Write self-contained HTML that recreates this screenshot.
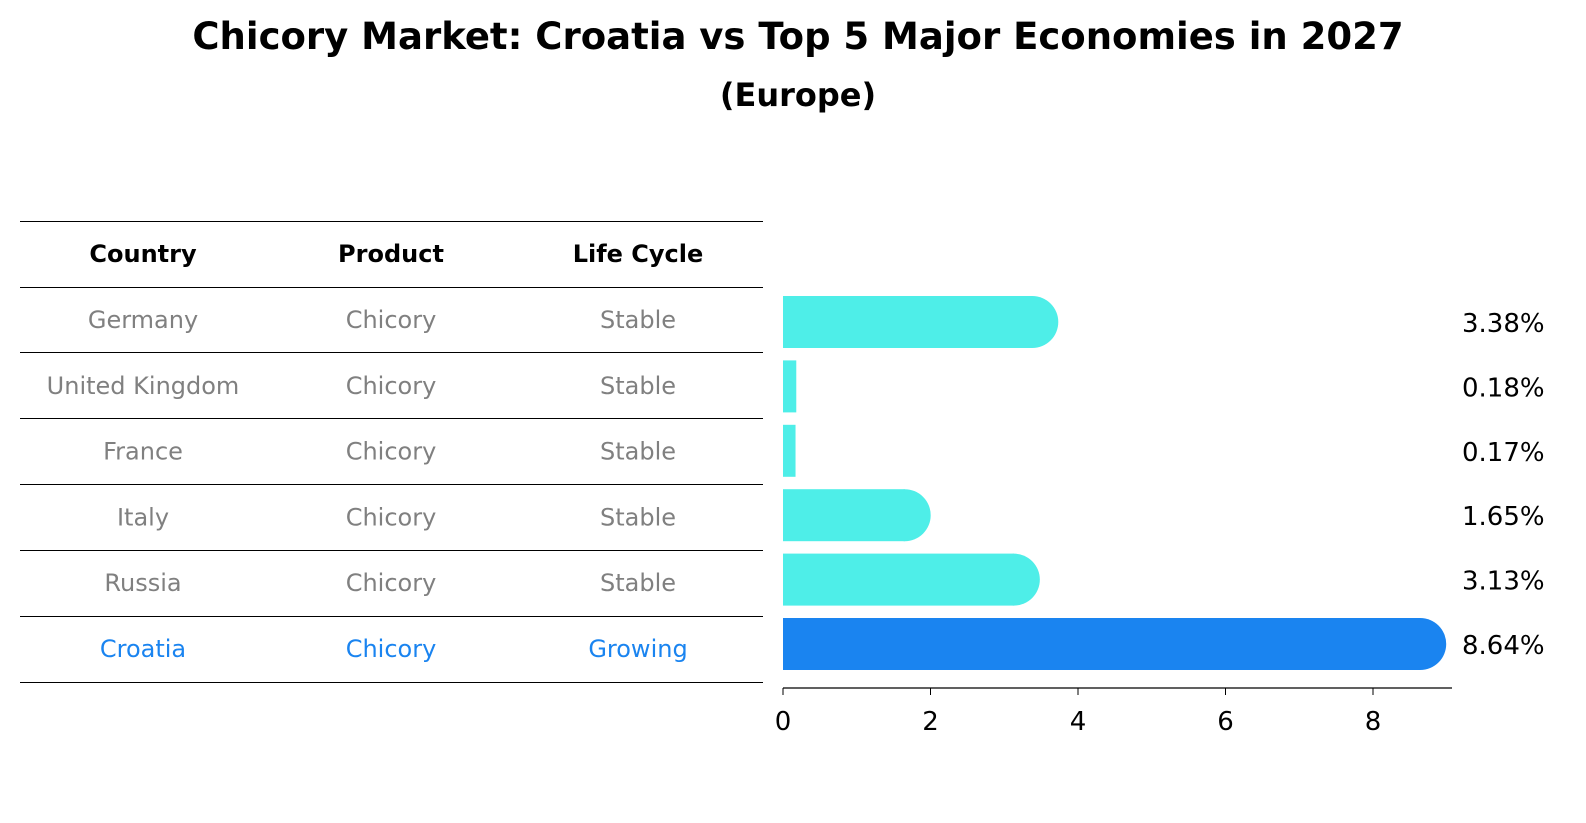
<!DOCTYPE html>
<html><head><meta charset="utf-8"><style>
html,body{margin:0;padding:0;background:#fff;overflow:hidden;width:1586px;height:823px;}
svg{display:block;font-family:"DejaVu Sans","Liberation Sans",sans-serif;}
</style></head><body>
<svg id="c" width="1586" height="823" viewBox="0 0 1586 823">
<text x="798" y="49" text-anchor="middle" font-size="37" font-weight="bold">Chicory Market: Croatia vs Top 5 Major Economies in 2027</text>
<text x="798" y="106" text-anchor="middle" font-size="32" font-weight="bold">(Europe)</text>
<g id="table"></g>
<g id="bars"></g>
</svg>
<script>
const countries=["Germany","United Kingdom","France","Italy","Russia","Croatia"];
const products=["Chicory","Chicory","Chicory","Chicory","Chicory","Chicory"];
const lifeCycles=["Stable","Stable","Stable","Stable","Stable","Growing"];
const shares=[3.38,0.18,0.17,1.65,3.13,8.64];
const xTicks=[0,2,4,6,8];
const NS="http://www.w3.org/2000/svg";
function mk(t,a,p){const e=document.createElementNS(NS,t);for(const k in a)e.setAttribute(k,a[k]);p.appendChild(e);return e;}
const tbl=document.getElementById('table'), bars=document.getElementById('bars');
const x=v=>783+v*73.75;
const rowY=i=>322+i*64.4;
const lineYs=[221,287,352,418,484,550,616,682];
lineYs.forEach(y=>{const l=mk('line',{x1:20,x2:763,y1:y+0.5,y2:y+0.5,stroke:'#000','stroke-width':1},tbl);

});
const colX=[143,391,638];
["Country","Product","Life Cycle"].forEach((h,j)=>{const t=mk('text',{x:colX[j],y:262,'text-anchor':'middle','font-size':24,'font-weight':'bold'},tbl);t.textContent=h;

});
countries.forEach((c,i)=>{const y=328+i*65.8;const col=c==="Croatia"?'#1a84f0':'#808080';
[c,products[i],lifeCycles[i]].forEach((v,j)=>{const t=mk('text',{x:colX[j],y:y,'text-anchor':'middle','font-size':24,fill:col},tbl);t.textContent=v;

});});
const bh=52,r=26;
shares.forEach((v,i)=>{const cy=rowY(i);const col=countries[i]==="Croatia"?'#1a84f0':'#4eeee8';
const g=mk('g',{},bars);


mk('rect',{x:x(0),y:cy-bh/2,width:x(v)-x(0),height:bh,fill:col},g);
if(v>1) mk('path',{d:`M${x(v)-1},${cy-bh/2} h1 a${r},${r} 0 0 1 0,${bh} h-1 z`,fill:col},g);
const t=mk('text',{x:1462,y:cy+10,'font-size':26,fill:'#000'},bars);t.textContent=v.toFixed(2)+'%';

});
const ax=mk('line',{x1:x(0),x2:1452,y1:688,y2:688,stroke:'#000','stroke-width':1.3},bars);


xTicks.forEach(v=>{mk('line',{x1:x(v),x2:x(v),y1:688,y2:695,stroke:'#000'},bars);
const t=mk('text',{x:x(v),y:730,'text-anchor':'middle','font-size':26},bars);t.textContent=v;

});
</script>
</body></html>
